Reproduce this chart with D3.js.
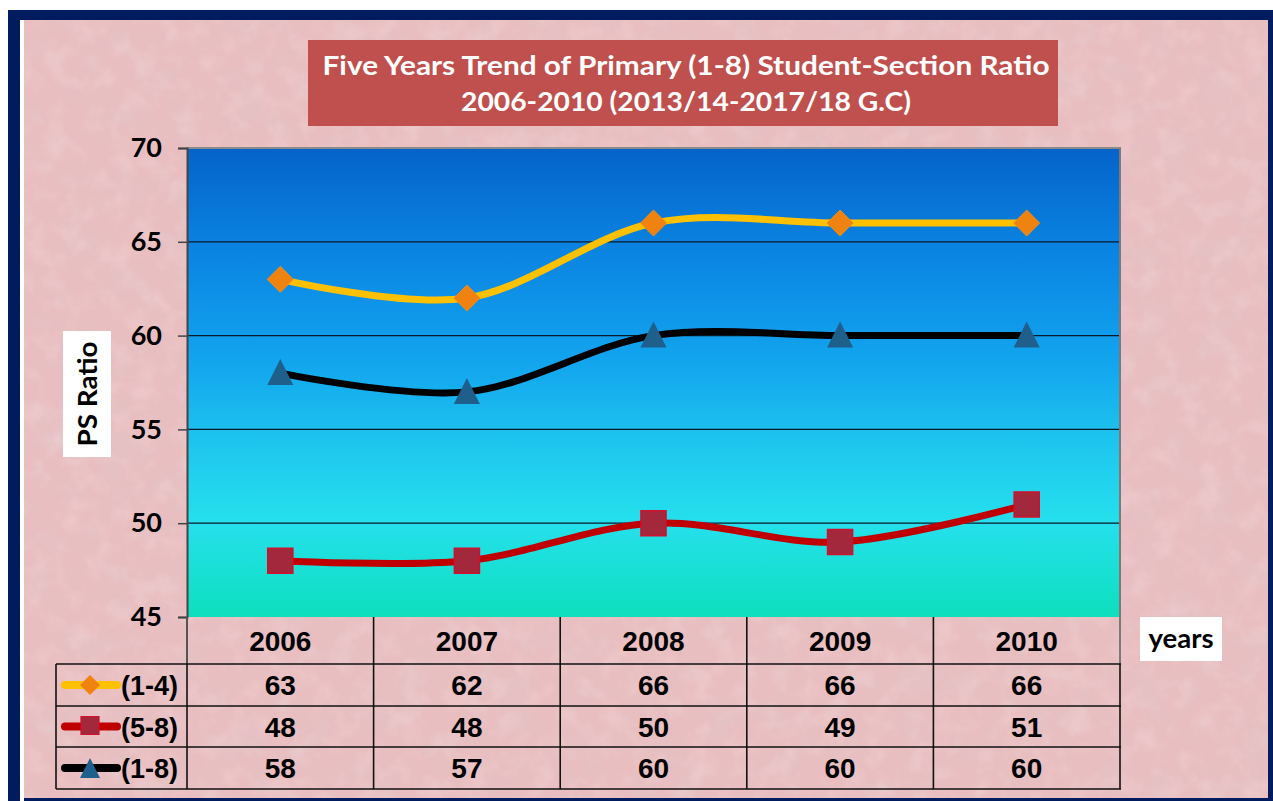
<!DOCTYPE html>
<html>
<head>
<meta charset="utf-8">
<script src="https://cdn.jsdelivr.net/npm/d3@7"></script>
<style>
  html, body { margin: 0; padding: 0; background: #ffffff; }
  svg { display: block; }
</style>
</head>
<body>
<div id="chart"></div>
<script>
// Student-section ratio by school year, primary grades
const years = ["2006", "2007", "2008", "2009", "2010"];
const grades14 = [63, 62, 66, 66, 66];
const grades58 = [48, 48, 50, 49, 51];
const grades18 = [58, 57, 60, 60, 60];
const yTicks = [45, 50, 55, 60, 65, 70];
const seriesNames = ["(1-4)", "(5-8)", "(1-8)"];
const titleLines = [
  "Five Years Trend of Primary (1-8) Student-Section Ratio",
  "2006-2010 (2013/14-2017/18 G.C)"
];

const series = [
  { name: seriesNames[0], values: grades14, line: "#ffc000", marker: "diamond" },
  { name: seriesNames[1], values: grades58, line: "#c00000", marker: "square" },
  { name: seriesNames[2], values: grades18, line: "#000000", marker: "triangle" }
];

const W = 1273, H = 801;
const plot = { left: 187, right: 1120, top: 148, bottom: 617 };
const rowH = [47, 42, 41, 42];   // header row, then one row per series
const legendLeft = 56;

const svg = d3.select("#chart").append("svg")
  .attr("width", W).attr("height", H);

const defs = svg.append("defs");

// mottled paper texture for the slide background
const tex = defs.append("filter").attr("id", "paper")
  .attr("x", 0).attr("y", 0).attr("width", "100%").attr("height", "100%");
tex.append("feTurbulence").attr("type", "fractalNoise")
  .attr("baseFrequency", "0.03").attr("numOctaves", 4).attr("seed", 7).attr("result", "n");
tex.append("feColorMatrix").attr("type", "matrix")
  .attr("values", "0 0 0 0 0.74  0 0 0 0 0.56  0 0 0 0 0.58  1.0 0 0 0 -0.42");
const tex2 = defs.append("filter").attr("id", "paperLight")
  .attr("x", 0).attr("y", 0).attr("width", "100%").attr("height", "100%");
tex2.append("feTurbulence").attr("type", "fractalNoise")
  .attr("baseFrequency", "0.045").attr("numOctaves", 3).attr("seed", 21).attr("result", "n");
tex2.append("feColorMatrix").attr("type", "matrix")
  .attr("values", "0 0 0 0 0.97  0 0 0 0 0.84  0 0 0 0 0.85  1.0 0 0 0 -0.45");

// plot background gradient
const grad = defs.append("linearGradient").attr("id", "plotBg")
  .attr("x1", 0).attr("y1", 0).attr("x2", 0).attr("y2", 1);
[["0%", "#0563c9"], ["22%", "#0a84e2"], ["45%", "#12a4ee"], ["65%", "#1fc9ee"],
 ["80%", "#25e0ec"], ["100%", "#0ddfbd"]]
  .forEach(([o, c]) => grad.append("stop").attr("offset", o).attr("stop-color", c));

// frame
svg.append("rect").attr("x", 8).attr("y", 10).attr("width", W - 8).attr("height", H - 10)
  .attr("fill", "#001c5f");
svg.append("rect").attr("x", 20).attr("y", 20).attr("width", 4).attr("height", H - 20)
  .attr("fill", "#ffffff");
svg.append("rect").attr("x", 24).attr("y", 20).attr("width", 1244).attr("height", 778)
  .attr("fill", "#e9bec0");
svg.append("rect").attr("x", 24).attr("y", 20).attr("width", 1244).attr("height", 778)
  .attr("filter", "url(#paper)");
svg.append("rect").attr("x", 24).attr("y", 20).attr("width", 1244).attr("height", 778)
  .attr("filter", "url(#paperLight)").attr("opacity", 0.5);

// title
svg.append("rect").attr("x", 308).attr("y", 40).attr("width", 750).attr("height", 86)
  .attr("fill", "#c0504d");
const titleFont = "Lato, 'Open Sans', sans-serif";
const titleWidths = [727, 450];
titleLines.forEach((t, i) => {
  svg.append("text").attr("x", 686).attr("y", 75 + i * 36)
    .attr("text-anchor", "middle").attr("font-family", titleFont)
    .attr("font-weight", 700).attr("font-size", 27).attr("fill", "#ffffff")
    .attr("textLength", titleWidths[i]).attr("lengthAdjust", "spacingAndGlyphs")
    .text(t);
});

// scales
const x = d3.scaleBand().domain(years).range([plot.left, plot.right]).padding(0);
const y = d3.scaleLinear().domain([45, 70]).range([plot.bottom, plot.top]);
const cx = d => x(d) + x.bandwidth() / 2;

// plot area
svg.append("rect").attr("x", plot.left).attr("y", plot.top)
  .attr("width", plot.right - plot.left).attr("height", plot.bottom - plot.top)
  .attr("fill", "url(#plotBg)");

// gridlines
svg.append("g").selectAll("line").data(yTicks.filter(v => v > 45 && v < 70)).join("line")
  .attr("x1", plot.left).attr("x2", plot.right)
  .attr("y1", d => y(d)).attr("y2", d => y(d))
  .attr("stroke", "#0b1a2a").attr("stroke-width", 1.2);

// plot border
svg.append("line").attr("x1", plot.left).attr("x2", plot.right + 1)
  .attr("y1", plot.top).attr("y2", plot.top).attr("stroke", "#8a8a8a").attr("stroke-width", 2);
svg.append("line").attr("x1", plot.right).attr("x2", plot.right)
  .attr("y1", plot.top).attr("y2", plot.bottom + rowH[0]).attr("stroke", "#7a7a7a").attr("stroke-width", 2);

// y axis
const yAxis = d3.axisLeft(y).tickValues(yTicks).tickSize(9).tickPadding(16);
const gy = svg.append("g").attr("transform", `translate(${plot.left},0)`).call(yAxis);
gy.select(".domain").attr("stroke", "#444").attr("stroke-width", 2);
gy.selectAll(".tick line").attr("stroke", "#444").attr("stroke-width", 1.5);
gy.selectAll(".tick text").attr("font-family", titleFont).attr("font-weight", 700)
  .attr("font-size", 27).attr("fill", "#000");
svg.append("line").attr("x1", plot.left).attr("x2", plot.left)
  .attr("y1", plot.bottom).attr("y2", plot.bottom + rowH[0])
  .attr("stroke", "#555").attr("stroke-width", 2);

// y axis title
svg.append("rect").attr("x", 63).attr("y", 331).attr("width", 48).attr("height", 126).attr("fill", "#fff");
svg.append("text").attr("transform", "translate(97,394) rotate(-90)")
  .attr("text-anchor", "middle").attr("font-family", titleFont).attr("font-weight", 700)
  .attr("font-size", 27).attr("fill", "#000")
  .attr("textLength", 105).attr("lengthAdjust", "spacingAndGlyphs").text("PS Ratio");

// x axis title
svg.append("rect").attr("x", 1140).attr("y", 617).attr("width", 82).attr("height", 44).attr("fill", "#fff");
svg.append("text").attr("x", 1181).attr("y", 648).attr("text-anchor", "middle")
  .attr("font-family", titleFont).attr("font-weight", 700).attr("font-size", 27)
  .attr("fill", "#000").attr("textLength", 65).attr("lengthAdjust", "spacingAndGlyphs").text("years");

// markers
function drawMarker(g, kind, px, py) {
  if (kind === "diamond") {
    g.append("path").attr("d", "M0,-13L13,0L0,13L-13,0Z").attr("transform", `translate(${px},${py})`)
      .attr("fill", "#f0820f").attr("stroke", "#f58b12").attr("stroke-width", 1);
  } else if (kind === "square") {
    g.append("path").attr("d", "M-12.5,-12.5H12.5V12.5H-12.5Z").attr("transform", `translate(${px},${py})`)
      .attr("fill", "#a3283c").attr("stroke", "#d0102c").attr("stroke-width", 1.6);
  } else {
    g.append("path").attr("d", "M0,-14L13,12L-13,12Z").attr("transform", `translate(${px},${py})`)
      .attr("fill", "#1f5f8b");
  }
}

// smoothed lines with markers
const line = d3.line().curve(d3.curveCatmullRom.alpha(0))
  .x((d, i) => cx(years[i])).y(d => y(d));
const gLines = svg.append("g");
series.forEach(s => {
  gLines.append("path").attr("d", line(s.values)).attr("fill", "none")
    .attr("stroke", s.line).attr("stroke-width", 7).attr("stroke-linejoin", "round");
});
series.forEach(s => {
  s.values.forEach((v, i) => drawMarker(gLines, s.marker, cx(years[i]), y(v)));
});

// data table
const tableFont = "'Liberation Sans', Arial, sans-serif";
const gt = svg.append("g");
const rowTop = [plot.bottom];
rowH.forEach((h, i) => rowTop.push(rowTop[i] + h));

// header row
years.forEach(yr => {
  gt.append("text").attr("x", cx(yr)).attr("y", plot.bottom + 34)
    .attr("text-anchor", "middle").attr("font-family", tableFont).attr("font-weight", 700)
    .attr("font-size", 28).attr("fill", "#000").text(yr);
});
// vertical separators between year columns
years.slice(1).forEach(yr => {
  gt.append("line").attr("x1", x(yr)).attr("x2", x(yr))
    .attr("y1", plot.bottom).attr("y2", rowTop[4])
    .attr("stroke", "#111").attr("stroke-width", 1.6);
});
// horizontal row lines
[1, 2, 3, 4].forEach(r => {
  gt.append("line").attr("x1", legendLeft).attr("x2", plot.right + 1)
    .attr("y1", rowTop[r]).attr("y2", rowTop[r]).attr("stroke", "#111").attr("stroke-width", 1.6);
});
[legendLeft, plot.left, plot.right].forEach(xx => {
  gt.append("line").attr("x1", xx).attr("x2", xx)
    .attr("y1", rowTop[1]).attr("y2", rowTop[4]).attr("stroke", "#111").attr("stroke-width", 1.6);
});

series.forEach((s, r) => {
  const top = rowTop[r + 1], h = rowH[r + 1];
  const midY = top + h / 2;
  // legend key
  gt.append("line").attr("x1", 65).attr("x2", 117).attr("y1", midY).attr("y2", midY)
    .attr("stroke", s.line).attr("stroke-width", 8).attr("stroke-linecap", "round");
  if (s.marker === "diamond") {
    gt.append("path").attr("d", "M0,-10L10,0L0,10L-10,0Z").attr("transform", `translate(90,${midY})`)
      .attr("fill", "#f0820f");
  } else if (s.marker === "square") {
    gt.append("path").attr("d", "M-9,-10H9V8H-9Z").attr("transform", `translate(90,${midY})`)
      .attr("fill", "#a3283c").attr("stroke", "#d0102c").attr("stroke-width", 1.2);
  } else {
    gt.append("path").attr("d", "M0,-10L10,10L-10,10Z").attr("transform", `translate(90,${midY})`)
      .attr("fill", "#1f5f8b");
  }
  gt.append("text").attr("x", 121).attr("y", midY + 10)
    .attr("font-family", tableFont).attr("font-weight", 700).attr("font-size", 27)
    .attr("fill", "#000").attr("textLength", 57).attr("lengthAdjust", "spacingAndGlyphs").text(s.name);
  s.values.forEach((v, i) => {
    gt.append("text").attr("x", cx(years[i])).attr("y", midY + 10)
      .attr("text-anchor", "middle").attr("font-family", tableFont).attr("font-weight", 700)
      .attr("font-size", 28).attr("fill", "#000").text(v);
  });
});
</script>
</body>
</html>
